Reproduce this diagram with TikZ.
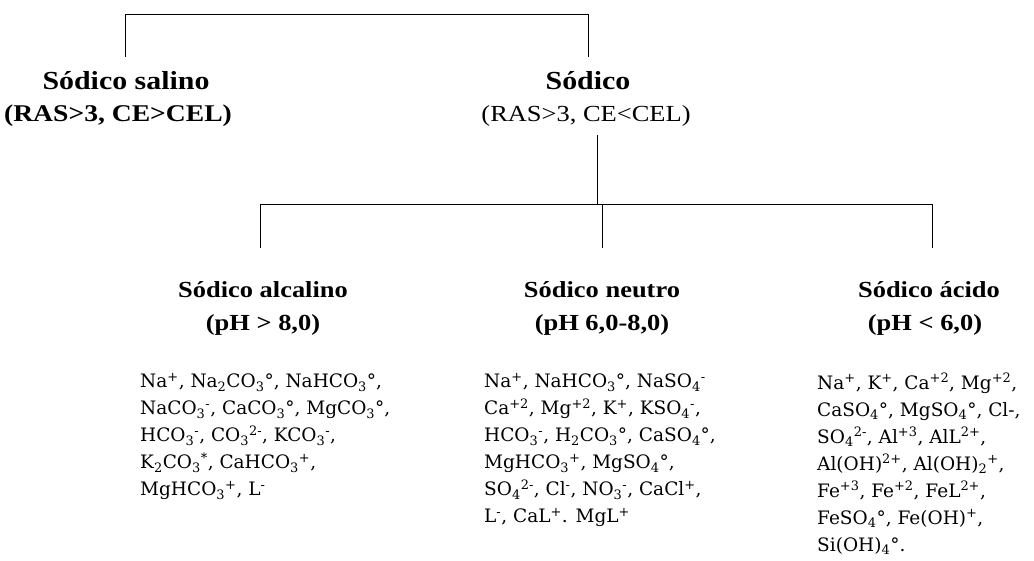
\documentclass[tikz,border=0pt]{standalone}
\usepackage{fontspec}
\setmainfont{Liberation Serif}
\newfontfamily\headfont[FakeStretch=1.15]{Liberation Serif}
\newfontfamily\bodyfont{DejaVu Serif}
\newcommand\chsb[1]{\textsubscript{#1}}
\newcommand\chsp[1]{\textsuperscript{#1}}
\begin{document}
\begin{tikzpicture}[x=1pt,y=-1pt,
  tline/.style={line width=1pt,black},
  toph/.style={font=\headfont\fontsize{26}{28}\selectfont\bfseries,anchor=base,inner sep=0pt},
  tops/.style={font=\headfont\fontsize{24}{28}\selectfont\bfseries,anchor=base,inner sep=0pt},
  topl/.style={font=\headfont\fontsize{23}{28}\selectfont,anchor=base,inner sep=0pt},
  head/.style={font=\headfont\fontsize{23}{28}\selectfont\bfseries,anchor=base,inner sep=0pt},
  lst/.style={font=\bodyfont\fontsize{18.5}{27}\selectfont,anchor=north west,align=left,inner sep=0pt}]
\useasboundingbox (0,0) rectangle (1034,561);
% top level
\node[toph] (salT) at (126,90) {Sódico salino};
\node[tops] (salS) at (118,122) {(RAS>3, CE>CEL)};
\node[toph] (sodT) at (588,90) {Sódico};
\node[topl] (sodS) at (586,122) {(RAS>3, CE<CEL)};
\coordinate (tl) at (125,15);
\coordinate (tr) at (588,15);
\coordinate (tlb) at (125,57);
\coordinate (trb) at (588,57);
\draw[tline] (tlb) -- (tl) -- (tr) -- (trb);
% second level
\coordinate (s0) at (597,135);
\coordinate (s1) at (597,205);
\coordinate (hl) at (260,205);
\coordinate (hr) at (932,205);
\coordinate (hm) at (602,205);
\coordinate (bl) at (260,248);
\coordinate (bm) at (602,248);
\coordinate (br) at (932,248);
\draw[tline] (s0) -- (s1);
\draw[tline] (bl) -- (hl) -- (hr) -- (br);
\draw[tline] (hm) -- (bm);
\node[head] (alcT) at (263,298) {Sódico alcalino};
\node[head] (alcS) at (263,331) {(pH > 8,0)};
\node[head] (neuT) at (602,298) {Sódico neutro};
\node[head] (neuS) at (602,331) {(pH 6,0-8,0)};
\node[head] (acdT) at (929,298) {Sódico ácido};
\node[head] (acdS) at (925,331) {(pH < 6,0)};
% lists
\node[lst] (alcL) at (140,373) {Na\chsp{+}, Na\chsb{2}CO\chsb{3}°, NaHCO\chsb{3}°,\\
NaCO\chsb{3}\chsp{-}, CaCO\chsb{3}°, MgCO\chsb{3}°,\\
HCO\chsb{3}\chsp{-}, CO\chsb{3}\chsp{2-}, KCO\chsb{3}\chsp{-},\\
K\chsb{2}CO\chsb{3}\chsp{*}, CaHCO\chsb{3}\chsp{+},\\
MgHCO\chsb{3}\chsp{+}, L\chsp{-}};
\node[lst] (neuL) at (484,373) {Na\chsp{+}, NaHCO\chsb{3}°, NaSO\chsb{4}\chsp{-}\\
Ca\chsp{+2}, Mg\chsp{+2}, K\chsp{+}, KSO\chsb{4}\chsp{-},\\
HCO\chsb{3}\chsp{-}, H\chsb{2}CO\chsb{3}°, CaSO\chsb{4}°,\\
MgHCO\chsb{3}\chsp{+}, MgSO\chsb{4}°,\\
SO\chsb{4}\chsp{2-}, Cl\chsp{-}, NO\chsb{3}\chsp{-}, CaCl\chsp{+},\\
L\chsp{-}, CaL\chsp{+}. MgL\chsp{+}};
\node[lst] (acdL) at (817,373) {Na\chsp{+}, K\chsp{+}, Ca\chsp{+2}, Mg\chsp{+2},\\
CaSO\chsb{4}°, MgSO\chsb{4}°, Cl-,\\
SO\chsb{4}\chsp{2-}, Al\chsp{+3}, AlL\chsp{2+},\\
Al(OH)\chsp{2+}, Al(OH)\chsb{2}\chsp{+},\\
Fe\chsp{+3}, Fe\chsp{+2}, FeL\chsp{2+},\\
FeSO\chsb{4}°, Fe(OH)\chsp{+},\\
Si(OH)\chsb{4}°.};
\end{tikzpicture}
\end{document}
